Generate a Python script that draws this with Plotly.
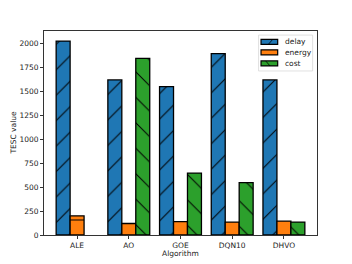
import plotly.graph_objects as go

algorithms = ["ALE", "AO", "GOE", "DQN10", "DHVO"]
delay = [2020, 1615, 1545, 1890, 1615]
energy = [200, 120, 140, 135, 145]
cost = [None, 1840, 645, 545, 135]
yticks = [0, 250, 500, 750, 1000, 1250, 1500, 1750, 2000]

series = [
    ("delay", delay, "#1f77b4", "/"),
    ("energy", energy, "#ff7f0e", "-"),
    ("cost", cost, "#2ca02c", "\\"),
]

fig = go.Figure()
for name, vals, color, shape in series:
    fig.add_trace(go.Bar(
        x=list(range(len(algorithms))), y=vals, name=name, showlegend=False,
        marker=dict(color=color, line=dict(color="black", width=1.3),
                    pattern=dict(shape=shape, fgcolor="black", bgcolor=color,
                                 size=18, solidity=0.055, fillmode="replace")),
    ))

font = dict(family="DejaVu Sans", size=7.5, color="#222")

# manual compact legend (matplotlib style)
shapes = [dict(type="rect", xref="paper", yref="paper", x0=0.786, x1=0.984,
               y0=0.804, y1=0.980, line=dict(color="#d8d8d8", width=0.8),
               fillcolor="rgba(255,255,255,0.8)", layer="above")]
annotations = []
ycent = [0.947, 0.895, 0.841]
for (name, vals, color, shape), yc in zip(series, ycent):
    shapes.append(dict(type="rect", xref="paper", yref="paper", x0=0.795, x1=0.856,
                       y0=yc - 0.0123, y1=yc + 0.0123, fillcolor=color,
                       line=dict(color="black", width=1.2), layer="above"))
    if shape == "/":
        shapes.append(dict(type="line", xref="paper", yref="paper", x0=0.822, x1=0.838,
                           y0=yc - 0.0123, y1=yc + 0.0123, line=dict(color="black", width=0.8),
                           layer="above"))
    elif shape == "\\":
        shapes.append(dict(type="line", xref="paper", yref="paper", x0=0.812, x1=0.828,
                           y0=yc + 0.0123, y1=yc - 0.0123, line=dict(color="black", width=0.8),
                           layer="above"))
    annotations.append(dict(text=name, xref="paper", yref="paper", x=0.874, y=yc,
                            xanchor="left", yanchor="middle", showarrow=False,
                            font=font))

# axis titles
annotations.append(dict(text="Algorithm", xref="paper", yref="paper", x=0.5, y=-0.093,
                        xanchor="center", yanchor="middle", showarrow=False, font=font))
annotations.append(dict(text="TESC value", xref="paper", yref="paper", x=-0.115, y=0.5,
                        xanchor="center", yanchor="middle", textangle=-90,
                        showarrow=False, font=font))

# page body has an 8px margin, so the figure is sized/offset to compensate
fig.update_layout(
    width=336, height=256, margin=dict(l=36, r=27, t=23, b=29, autoexpand=False),
    barmode="group", bargap=0.19, bargroupgap=0,
    plot_bgcolor="white", paper_bgcolor="white", font=font,
    showlegend=False, shapes=shapes, annotations=annotations,
    xaxis=dict(range=[-0.64, 4.64], tickmode="array", automargin=False,
               tickvals=list(range(len(algorithms))), ticktext=algorithms,
               showline=True, linecolor="#333", linewidth=1, mirror=True,
               ticks="outside", ticklen=3, tickcolor="#333", showgrid=False),
    yaxis=dict(range=[0, 2125], tickmode="array", tickvals=yticks, automargin=False,
               showline=True, linecolor="#333", linewidth=1, mirror=True,
               ticks="outside", ticklen=3, tickcolor="#333", showgrid=False,
               zeroline=False),
)
fig.write_html("out.html")
